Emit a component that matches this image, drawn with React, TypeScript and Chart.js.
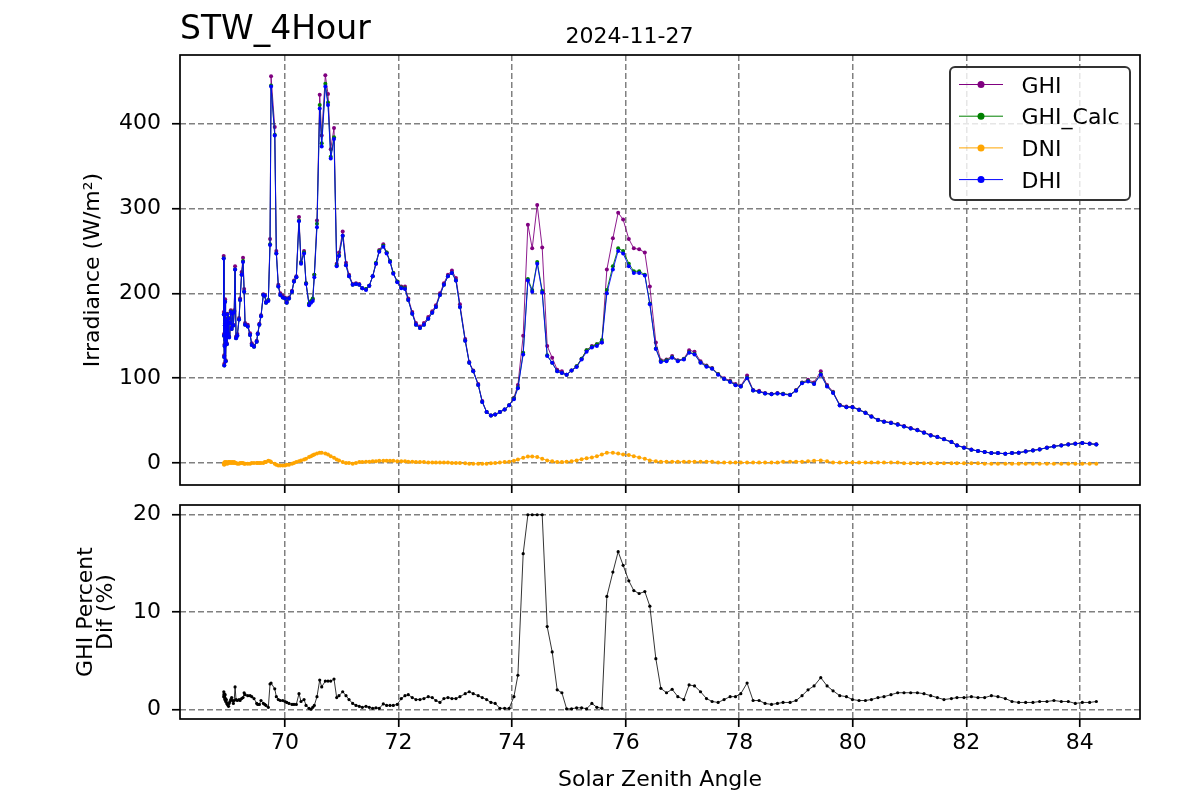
import React, { useEffect, useRef } from "react";
import { Chart, registerables } from "chart.js";
Chart.register(...registerables);

const chartTitle = "STW_4Hour";
const chartDate = "2024-11-27";
const xLabel = "Solar Zenith Angle";
const topYLabel = "Irradiance (W/m²)";
const botYLabel = ["GHI Percent", "Dif (%)"];
const seriesNames = ["GHI", "GHI_Calc", "DNI", "DHI"];
const seriesColors = ["purple", "green", "orange", "blue"];
const xTicks = [70, 72, 74, 76, 78, 80, 82, 84];
const topYTicks = [0, 100, 200, 300, 400];
const botYTicks = [0, 10, 20];

const sza = [
  68.920, 68.922, 68.925, 68.928, 68.930, 68.935, 68.940, 68.945, 68.950, 68.955,
  68.965, 68.975, 68.985, 68.995, 69.005, 69.015, 69.030, 69.045, 69.060, 69.075,
  69.090, 69.105, 69.120, 69.137, 69.160, 69.190, 69.208, 69.235, 69.260, 69.280,
  69.296, 69.343, 69.384, 69.414, 69.454, 69.501, 69.519, 69.548, 69.577, 69.618,
  69.643, 69.665, 69.706, 69.736, 69.754, 69.819, 69.847, 69.882, 69.917, 69.960,
  70.000, 70.030, 70.070, 70.123, 70.158, 70.199, 70.246, 70.282, 70.335, 70.370,
  70.423, 70.458, 70.488, 70.516, 70.563, 70.611, 70.646, 70.710, 70.757, 70.805,
  70.863, 70.910, 70.951, 71.016, 71.074, 71.127, 71.192, 71.250, 71.308, 71.361,
  71.426, 71.484, 71.544, 71.602, 71.660, 71.731, 71.790, 71.849, 71.907, 71.977,
  72.048, 72.113, 72.171, 72.241, 72.306, 72.377, 72.447, 72.523, 72.593, 72.658,
  72.729, 72.799, 72.870, 72.940, 73.011, 73.081, 73.174, 73.245, 73.315, 73.403,
  73.474, 73.551, 73.627, 73.702, 73.785, 73.868, 73.949, 74.032, 74.102, 74.195,
  74.278, 74.354, 74.442, 74.530, 74.618, 74.706, 74.794, 74.877, 74.960, 75.047,
  75.136, 75.224, 75.312, 75.405, 75.493, 75.581, 75.669, 75.775, 75.868, 75.956,
  76.056, 76.144, 76.238, 76.338, 76.426, 76.532, 76.620, 76.720, 76.819, 76.919,
  77.025, 77.118, 77.213, 77.319, 77.424, 77.523, 77.629, 77.734, 77.840, 77.935,
  78.028, 78.139, 78.245, 78.350, 78.456, 78.569, 78.674, 78.773, 78.896, 79.002,
  79.107, 79.213, 79.319, 79.437, 79.548, 79.653, 79.771, 79.889, 79.995, 80.111,
  80.224, 80.329, 80.445, 80.551, 80.674, 80.792, 80.903, 81.021, 81.139, 81.255,
  81.373, 81.491, 81.607, 81.738, 81.836, 81.960, 82.090, 82.206, 82.324, 82.442,
  82.558, 82.688, 82.805, 82.923, 83.046, 83.174, 83.292, 83.421, 83.544, 83.674,
  83.797, 83.921, 84.044, 84.173, 84.291,
];

const ghi = [
  244, 178, 152, 127, 117, 140, 164, 193, 147, 121,
  170, 141, 176, 153, 171, 149, 166, 180, 160, 178,
  163, 180, 232, 149, 152, 171, 194, 225, 242, 205,
  165, 163, 153, 141, 138, 144, 153, 164, 174, 199,
  198, 190, 192, 264, 456, 396, 250, 210, 200, 197,
  195, 190, 195, 203, 215, 220, 290, 237, 250, 212,
  187, 190, 193, 222, 286, 434, 386, 457, 435, 370,
  395, 235, 248, 273, 236, 222, 211, 212, 211, 206,
  205, 209, 220, 235, 251, 258, 248, 238, 224, 214,
  208, 208, 194, 178, 165, 161, 165, 172, 179, 186,
  200, 212, 222, 227, 218, 187, 146, 119, 109, 93,
  73, 60, 56, 57, 60, 63, 68, 77, 92, 150,
  281, 253, 304, 254, 138, 124, 110, 108, 104, 109,
  114, 123, 133, 138, 140, 142, 228, 265, 295, 287,
  264, 253, 252, 248, 208, 142, 121, 122, 126, 121,
  123, 133, 131, 120, 115, 112, 105, 100, 97, 93,
  91, 103, 86, 85, 82.5, 81.5, 82.5, 81.5, 80.5, 86,
  95, 98, 95, 108, 92, 84, 68.7, 66.5, 66.3, 63,
  59.5, 55, 51, 49, 47.7, 45.8, 43.7, 41.2, 39.1, 36.3,
  33, 30.9, 28.1, 24.9, 21, 18.2, 15.8, 14.2, 13, 11.8,
  11.7, 10.9, 11.7, 12.1, 13.7, 14.9, 16.1, 18.1, 19.7, 20.9,
  22, 22.8, 23.6, 22.8, 22,
];

const ghiCalc = [
  241.5, 175, 150, 125, 115, 138, 162.5, 190, 145, 120,
  168.5, 140, 175, 152, 170.5, 148.5, 165, 178.5, 158, 176.5,
  162, 178.5, 228, 147, 150, 169, 192, 222, 238, 202,
  163, 161, 151, 139, 137, 143, 152, 163, 173, 198,
  197, 189, 192, 258, 445, 387, 247, 208, 198, 195,
  194, 189, 194, 202, 214, 219, 286, 236, 248, 212,
  188, 191, 194, 222, 282, 422, 377, 447, 425, 361,
  384, 233, 245, 268, 233, 220, 210, 211, 210, 206,
  205, 209, 220, 236, 250, 256, 248, 238, 224, 214,
  207, 206, 192, 176, 163, 159, 163, 170, 177, 184,
  198, 210, 220, 224, 215, 184, 144, 118, 108, 92,
  72, 60, 56, 57, 60, 63, 68, 76, 89, 130,
  217, 204, 237, 203, 127, 118, 108, 106, 104, 109,
  114, 123, 133, 137, 140, 145, 204, 232, 253, 250,
  235, 226, 226, 222, 188, 135, 120, 121, 124.5, 120.5,
  122.5, 130.5, 128.5, 118.5, 114, 111.5, 104.5, 99, 96, 92,
  90, 100.5, 85.5, 84, 82, 81, 82, 81.5, 80.5, 85.5,
  94.5, 96.5, 93.5, 105, 90.5, 83, 68, 65.8, 65.8, 62.7,
  59.2, 54.7, 50.7, 48.7, 47.2, 45.2, 43, 40.5, 38.5, 35.7,
  32.5, 30.5, 27.8, 24.6, 20.7, 18, 15.6, 14, 12.8, 11.6,
  11.6, 10.8, 11.6, 12, 13.6, 14.8, 16, 18, 19.5, 20.7,
  21.8, 22.6, 23.4, 22.6, 21.8,
];

const dni = [
  -1, -1, 0, -2, -1, 0, 1, 0, -1, 0,
  1, 0, -1, 0, 1, 1, 0, 1, 0, 1,
  0, 1, 0, 0, -1, -1, 0, 0, 0, -1,
  -1, -1, -1, 0, 0, 0, 0, 0, 0, 0,
  1, 1, 2.5, 2, 1, -1, -2, -3, -3, -3,
  -3, -2, -2, -1, 0, 1, 2, 3, 4, 5,
  7, 8, 9, 10, 11, 12, 12, 11, 10, 8,
  6, 4, 3, 1, 0, 0, -1, 0, 1, 1,
  1.5, 1.5, 2, 2, 2.5, 2.5, 2.5, 2.5, 2.5, 2,
  2, 2, 1.5, 1.5, 1, 1, 1, 0.5, 0.5, 0.5,
  0.5, 0.5, 0.5, 0, 0, 0, -0.5, -1, -1, -1,
  -1, -1, -0.5, 0, 0.5, 1, 1.5, 2.5, 4, 6,
  7.5, 7.5, 7, 5, 3, 2, 1, 1, 1.5, 2,
  3, 4.5, 5.5, 6.5, 8, 10, 12, 12, 11, 10,
  9.5, 8, 6.5, 5, 3, 2, 1.5, 1.5, 1.5, 1.5,
  1.5, 1.5, 1.5, 1.5, 1.5, 1.5, 0.5, 0.5, 0.5, 0.5,
  0.5, 0.5, 0.5, 0.5, 0.5, 0.5, 0.5, 1.5, 1.5, 1.5,
  1.5, 2, 2.5, 3, 2, 0.5, 0.5, 0.5, 0.5, 0.5,
  0.5, 0.5, 0.5, 0.5, 0.5, 0.5, -0.5, -0.5, -0.5, -0.5,
  -0.5, -0.5, -0.5, -0.5, -0.5, -0.5, -0.5, -0.5, -1, -1,
  -1, -1, -1, -1, -1, -1, -1, -1, -1, -1,
  -1, -1, -1, -1, -1,
];

const dhi = [
  241, 175, 150, 125, 115, 138, 162, 190, 145, 120,
  168, 140, 175, 152, 170, 148, 165, 178, 158, 176,
  162, 178, 228, 147, 150, 169, 192, 222, 237, 202,
  163, 161, 151, 139, 137, 143, 152, 163, 173, 198,
  197, 189, 191, 257, 444, 386, 247, 208, 198, 195,
  194, 189, 194, 202, 214, 219, 285, 235, 247, 211,
  186, 189, 191, 219, 278, 418, 373, 444, 422, 359,
  382, 232, 244, 268, 233, 220, 210, 211, 210, 206,
  204, 209, 220, 235, 249, 255, 247, 237, 223, 213,
  206, 205, 192, 176, 163, 159, 163, 170, 177, 184,
  198, 210, 220, 224, 215, 184, 144, 118, 108, 92,
  72, 60, 56, 57, 60, 63, 68, 75, 88, 128,
  215, 202, 235, 201, 126, 118, 108, 106, 104, 109,
  113, 122, 131, 136, 138, 142, 200, 228, 250, 247,
  232, 224, 224, 221, 187, 134.5, 119, 120, 124, 120,
  122, 130, 128, 118, 113.5, 111, 104, 99, 95.5, 91.5,
  90, 100, 85.5, 84, 82, 81, 82, 81, 80, 85,
  94, 96, 93, 104, 90, 82.5, 67.7, 65.6, 65.6, 62.5,
  59, 54.5, 50.5, 48.5, 47, 45, 43, 40.5, 38.5, 35.7,
  32.5, 30.5, 27.8, 24.6, 20.7, 18, 15.6, 14, 12.8, 11.6,
  11.6, 10.8, 11.6, 12, 13.6, 14.8, 16, 18, 19.5, 20.7,
  21.8, 22.6, 23.4, 22.6, 21.8,
];

const ghiPctDif = [
  1.3, 1.8, 1.5, 1.6, 1.4, 1.2, 1.0, 1.5, 1.1, 0.8,
  1.0, 0.6, 0.5, 0.5, 0.3, 0.6, 0.8, 1.0, 1.2, 0.9,
  0.6, 0.9, 2.3, 1.0, 0.9, 1.0, 0.9, 1.1, 1.2, 1.7,
  1.5, 1.4, 1.4, 1.3, 1.1, 0.6, 0.5, 0.5, 0.9, 0.6,
  0.5, 0.4, 0.2, 2.6, 2.7, 2.1, 1.3, 1.0, 0.9, 0.9,
  0.8, 0.7, 0.6, 0.5, 0.5, 0.5, 1.6, 0.8, 1.0, 0.4,
  0.1, 0.0, 0.2, 0.4, 1.3, 3.0, 2.3, 2.9, 2.9, 2.9,
  3.1, 1.2, 1.4, 1.8, 1.4, 1.0, 0.6, 0.4, 0.3, 0.2,
  0.3, 0.2, 0.1, 0.15, 0.1, 0.55, 0.4, 0.4, 0.4, 0.5,
  1.1, 1.4, 1.5, 1.2, 1.0, 1.0, 1.1, 1.3, 1.2, 0.9,
  0.7, 1.1, 1.2, 1.1, 1.1, 1.3, 1.6, 1.8, 1.6, 1.4,
  1.2, 1.0, 0.7, 0.6, 0.1, 0.1, 0.1, 1.3, 3.5, 16,
  20, 20, 20, 20, 8.5, 5.9, 2.0, 1.7, 0.05, 0.05,
  0.15, 0.15, 0.05, 0.6, 0.2, 0.1, 11.6, 14.1, 16.2, 14.8,
  13.2, 12.2, 11.9, 12.1, 10.6, 5.2, 2.15, 1.7, 2.05, 1.3,
  1.0, 2.5, 2.4, 1.8, 1.1, 0.8, 0.7, 1.0, 1.3, 1.3,
  1.6, 2.7, 0.9, 0.9, 0.6, 0.5, 0.6, 0.7, 0.7, 0.9,
  1.4, 2.0, 2.4, 3.25, 2.4, 1.9, 1.4, 1.3, 1.0, 0.9,
  0.9, 1.0, 1.2, 1.3, 1.5, 1.7, 1.7, 1.7, 1.7, 1.6,
  1.4, 1.2, 1.0, 1.1, 1.2, 1.2, 1.3, 1.2, 1.2, 1.4,
  1.3, 1.1, 0.8, 0.7, 0.7, 0.7, 0.8, 0.8, 0.9, 0.8,
  0.8, 0.6, 0.7, 0.7, 0.8,
];

const FONT = "'DejaVu Sans', sans-serif";
const FS = 22;
const X_MIN = 68.15;
const X_MAX = 85.06;

const toPts = (ys: number[]) => sza.map((x, i) => ({ x, y: ys[i] }));

const gridOpts = {
  color: "#808080",
  lineWidth: 1.5,
  tickLength: 8,
  tickColor: "#000",
  tickWidth: 1.7,
};
const borderOpts = { display: false, dash: [6, 3] };

const framePlugin = {
  id: "frame",
  afterDatasetsDraw(chart: any) {
    const { ctx, chartArea: a } = chart;
    ctx.save();
    ctx.strokeStyle = "#000";
    ctx.lineWidth = 1.7;
    ctx.strokeRect(a.left, a.top, a.right - a.left, a.bottom - a.top);
    ctx.restore();
  },
};

const titlePlugin = {
  id: "titles",
  afterDraw(chart: any) {
    const { ctx, chartArea: a } = chart;
    ctx.save();
    ctx.fillStyle = "#000";
    ctx.textBaseline = "alphabetic";
    ctx.textAlign = "left";
    ctx.font = `33px ${FONT}`;
    ctx.fillText(chartTitle, a.left, 39);
    ctx.textAlign = "center";
    ctx.font = `${FS}px ${FONT}`;
    ctx.fillText(chartDate, 629.5, 43);
    ctx.restore();
  },
};

const legendPlugin = {
  id: "customLegend",
  afterDraw(chart: any) {
    const { ctx } = chart;
    const bx = 950, by = 67, bw = 180, bh = 133, r = 5;
    ctx.save();
    ctx.beginPath();
    ctx.moveTo(bx + r, by);
    ctx.arcTo(bx + bw, by, bx + bw, by + bh, r);
    ctx.arcTo(bx + bw, by + bh, bx, by + bh, r);
    ctx.arcTo(bx, by + bh, bx, by, r);
    ctx.arcTo(bx, by, bx + bw, by, r);
    ctx.closePath();
    ctx.fillStyle = "rgba(255,255,255,0.8)";
    ctx.fill();
    ctx.strokeStyle = "#333";
    ctx.lineWidth = 2;
    ctx.stroke();
    ctx.font = `${FS}px ${FONT}`;
    ctx.textAlign = "left";
    ctx.textBaseline = "alphabetic";
    seriesNames.forEach((name, i) => {
      const y = 84.5 + i * 31.7;
      ctx.strokeStyle = seriesColors[i];
      ctx.lineWidth = 1;
      ctx.beginPath();
      ctx.moveTo(959, y);
      ctx.lineTo(1003, y);
      ctx.stroke();
      ctx.fillStyle = seriesColors[i];
      ctx.beginPath();
      ctx.arc(981, y, 3.5, 0, Math.PI * 2);
      ctx.fill();
      ctx.fillStyle = "#000";
      ctx.fillText(name, 1021.5, y + 8);
    });
    ctx.restore();
  },
};

function setTicks(values: number[]) {
  return (scale: any) => {
    scale.ticks = values.map((v) => ({ value: v }));
  };
}

export default function App() {
  const topRef = useRef<HTMLCanvasElement>(null);
  const botRef = useRef<HTMLCanvasElement>(null);

  useEffect(() => {
    const seriesData = [ghi, ghiCalc, dni, dhi];
    const orders = [4, 3, 2, 1];
    const top = new Chart(topRef.current as HTMLCanvasElement, {
      type: "line",
      data: {
        datasets: seriesNames.map((name, i) => ({
          label: name,
          data: toPts(seriesData[i]),
          borderColor: seriesColors[i],
          backgroundColor: seriesColors[i],
          pointBackgroundColor: seriesColors[i],
          borderWidth: 0.9,
          pointRadius: 2,
          pointBorderWidth: 0,
          tension: 0,
          order: orders[i],
        })),
      },
      options: {
        animation: false,
        responsive: false,
        layout: { padding: { left: 0, right: 60, top: 55, bottom: 0 } },
        plugins: { legend: { display: false }, tooltip: { enabled: false }, title: { display: false } },
        scales: {
          x: {
            type: "linear",
            min: X_MIN,
            max: X_MAX,
            afterBuildTicks: setTicks(xTicks),
            afterFit: (s: any) => {
              s.height = 10;
              s.paddingLeft = 0;
              s.paddingRight = 0;
            },
            ticks: { display: false },
            grid: gridOpts,
            border: borderOpts,
          },
          y: {
            type: "linear",
            min: -26,
            max: 481,
            afterBuildTicks: setTicks(topYTicks),
            afterFit: (s: any) => {
              s.width = 180;
              s.paddingTop = 0;
              s.paddingBottom = 0;
            },
            ticks: { color: "#000", padding: 11, font: { family: FONT, size: FS } },
            title: {
              display: true,
              text: topYLabel,
              color: "#000",
              font: { family: FONT, size: FS, lineHeight: 1.2 },
              padding: { top: 80, bottom: 0 },
            },
            grid: gridOpts,
            border: borderOpts,
          },
        },
      } as any,
      plugins: [framePlugin, titlePlugin, legendPlugin],
    });

    const bot = new Chart(botRef.current as HTMLCanvasElement, {
      type: "line",
      data: {
        datasets: [
          {
            label: "GHI Percent Dif",
            data: toPts(ghiPctDif),
            borderColor: "#000",
            backgroundColor: "#000",
            pointBackgroundColor: "#000",
            borderWidth: 0.8,
            pointRadius: 1.6,
            pointBorderWidth: 0,
            tension: 0,
          },
        ],
      },
      options: {
        animation: false,
        responsive: false,
        layout: { padding: { left: 0, right: 60, top: 10, bottom: 0 } },
        plugins: { legend: { display: false }, tooltip: { enabled: false }, title: { display: false } },
        scales: {
          x: {
            type: "linear",
            min: X_MIN,
            max: X_MAX,
            afterBuildTicks: setTicks(xTicks),
            afterFit: (s: any) => {
              s.height = 81;
              s.paddingLeft = 0;
              s.paddingRight = 0;
            },
            ticks: { color: "#000", padding: 3, maxRotation: 0, font: { family: FONT, size: FS } },
            title: {
              display: true,
              text: xLabel,
              color: "#000",
              font: { family: FONT, size: FS, lineHeight: 1.2 },
              padding: { top: 0, bottom: 7 },
            },
            grid: gridOpts,
            border: borderOpts,
          },
          y: {
            type: "linear",
            min: -1,
            max: 21,
            afterBuildTicks: setTicks(botYTicks),
            afterFit: (s: any) => {
              s.width = 180;
              s.paddingTop = 0;
              s.paddingBottom = 0;
            },
            ticks: { color: "#000", padding: 11, font: { family: FONT, size: FS } },
            title: {
              display: true,
              text: botYLabel,
              color: "#000",
              font: { family: FONT, size: FS, lineHeight: "20px" },
              padding: { top: 76, bottom: 0 },
            },
            grid: gridOpts,
            border: borderOpts,
          },
        },
      } as any,
      plugins: [framePlugin],
    });

    return () => {
      top.destroy();
      bot.destroy();
    };
  }, []);

  return (
    <div style={{ position: "absolute", left: 0, top: 0, width: 1200, height: 800, background: "#fff" }}>
      <canvas
        ref={topRef}
        width={1200}
        height={495}
        style={{ position: "absolute", left: 0, top: 0, width: 1200, height: 495, display: "block" }}
      />
      <canvas
        ref={botRef}
        width={1200}
        height={305}
        style={{ position: "absolute", left: 0, top: 495, width: 1200, height: 305, display: "block" }}
      />
    </div>
  );
}
